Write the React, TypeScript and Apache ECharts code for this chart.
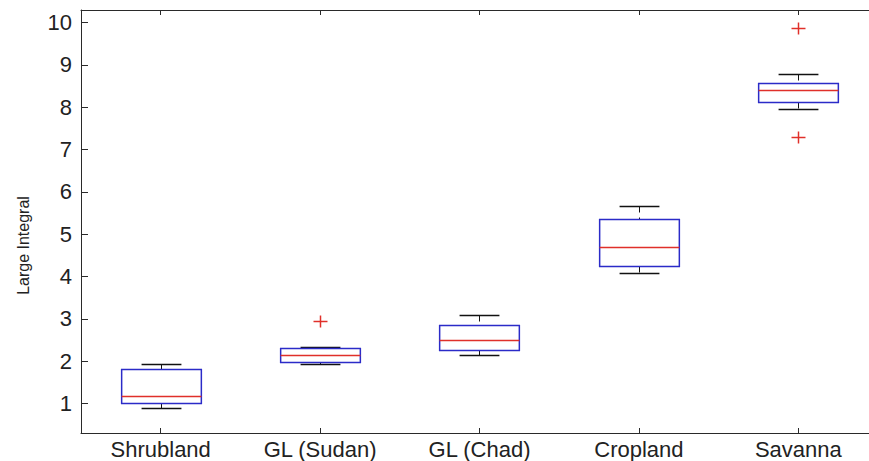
import React, { useEffect, useRef } from "react";
import * as echarts from "echarts";

// Land-cover classes along the x axis
const categories = ["Shrubland", "GL (Sudan)", "GL (Chad)", "Cropland", "Savanna"];

// Five-number summaries per class: lower whisker, Q1, median, Q3, upper whisker
const lowerWhisker = [0.9, 1.93, 2.14, 4.09, 7.95];
const quartile1 = [1.0, 1.99, 2.26, 4.25, 8.13];
const medians = [1.18, 2.14, 2.49, 4.7, 8.41];
const quartile3 = [1.82, 2.3, 2.86, 5.35, 8.57];
const upperWhisker = [1.93, 2.33, 3.08, 5.66, 8.78];

// Outlying observations: class index and value
const outlierClass = [1, 4, 4];
const outlierValue = [2.95, 9.87, 7.3];

// Y-axis tick values
const yTicks = [1, 2, 3, 4, 5, 6, 7, 8, 9, 10];

const FONT = "'Liberation Sans', Arial, Helvetica, sans-serif";
const BOX_BLUE = "#2b2bc8";
const MEDIAN_RED = "#e0302a";
const AXIS_DARK = "#2a2a2a";

const crisp = (v: number) => Math.round(v) + 0.5;

// One custom series per primitive; each item draws a single element
function partSeries(name: string, data: number[][], dims: number[], draw: (api: any) => any) {
  return {
    type: "custom",
    name,
    data,
    encode: { x: 0, y: dims },
    renderItem: (_params: any, api: any) => draw(api),
  };
}

export default function App() {
  const ref = useRef<HTMLDivElement>(null);

  useEffect(() => {
    if (!ref.current) return;
    const chart = echarts.init(ref.current, undefined, { renderer: "svg" });

    const boxData = categories.map((_, i) => [
      i,
      lowerWhisker[i],
      quartile1[i],
      medians[i],
      quartile3[i],
      upperWhisker[i],
    ]);
    const outlierData = outlierClass.map((c, i) => [c, outlierValue[i]]);

    const px = (api: any, dim: number) => {
      const idx = api.value(0);
      const p = api.coord([idx, api.value(dim)]);
      return { cx: crisp(p[0]), y: crisp(p[1]), band: api.size([1, 0])[0] };
    };

    const whiskerStyle = { stroke: "#111", lineWidth: 1, lineDash: [6, 5] };
    const capStyle = { stroke: "#111", lineWidth: 1.5 };
    const plusStyle = { stroke: MEDIAN_RED, lineWidth: 1.5 };

    chart.setOption({
      animation: false,
      backgroundColor: "#ffffff",
      grid: {
        left: 81,
        top: 10,
        width: 797,
        height: 423,
        outerBoundsMode: "none",
        show: false,
        borderWidth: 0,
      },
      xAxis: [
        {
          type: "category",
          data: categories,
          axisLine: { show: true, lineStyle: { color: AXIS_DARK, width: 1 } },
          axisTick: { show: true, inside: true, length: 5, alignWithLabel: true, lineStyle: { color: AXIS_DARK } },
          axisLabel: { color: "#222", fontFamily: FONT, fontSize: 22, margin: 5 },
          splitLine: { show: false },
        },
        {
          type: "category",
          data: categories,
          position: "top",
          axisLine: { show: true, lineStyle: { color: AXIS_DARK, width: 1 } },
          axisTick: { show: true, inside: true, length: 5, alignWithLabel: true, lineStyle: { color: AXIS_DARK } },
          axisLabel: { show: false },
          splitLine: { show: false },
        },
      ],
      yAxis: {
        type: "value",
        min: 0.3,
        max: 10.3,
        name: "Large Integral",
        nameLocation: "middle",
        nameGap: 50,
        nameTextStyle: {
          color: "#222",
          fontFamily: FONT,
          fontSize: 16,
          padding: [0, 48, 0, 0],
        },
        axisLine: { show: true, lineStyle: { color: AXIS_DARK, width: 1 } },
        axisTick: {
          show: true,
          inside: true,
          length: 7,
          customValues: yTicks,
          lineStyle: { color: AXIS_DARK },
        },
        axisLabel: {
          color: "#222",
          fontFamily: FONT,
          fontSize: 22,
          margin: 9,
          customValues: yTicks,
        },
        splitLine: { show: false },
      },
      series: [
        // upper whisker (dashed), cap to Q3
        partSeries("upperWhisker", boxData, [5, 4], (api) => {
          const hi = px(api, 5);
          const q3 = px(api, 4);
          return { type: "line", shape: { x1: hi.cx, y1: hi.y, x2: hi.cx, y2: q3.y }, style: whiskerStyle };
        }),
        // lower whisker (dashed), Q1 to cap
        partSeries("lowerWhisker", boxData, [2, 1], (api) => {
          const q1 = px(api, 2);
          const lo = px(api, 1);
          return { type: "line", shape: { x1: q1.cx, y1: q1.y, x2: q1.cx, y2: lo.y }, style: whiskerStyle };
        }),
        partSeries("upperCap", boxData, [5], (api) => {
          const hi = px(api, 5);
          const w = hi.band * 0.125;
          return { type: "line", shape: { x1: hi.cx - w, y1: hi.y, x2: hi.cx + w, y2: hi.y }, style: capStyle };
        }),
        partSeries("lowerCap", boxData, [1], (api) => {
          const lo = px(api, 1);
          const w = lo.band * 0.125;
          return { type: "line", shape: { x1: lo.cx - w, y1: lo.y, x2: lo.cx + w, y2: lo.y }, style: capStyle };
        }),
        partSeries("box", boxData, [2, 4], (api) => {
          const q1 = px(api, 2);
          const q3 = px(api, 4);
          const w = q1.band * 0.25;
          return {
            type: "rect",
            shape: { x: q1.cx - w, y: q3.y, width: 2 * w, height: q1.y - q3.y },
            style: { fill: "none", stroke: BOX_BLUE, lineWidth: 1.5 },
          };
        }),
        partSeries("median", boxData, [3], (api) => {
          const m = px(api, 3);
          const w = m.band * 0.25;
          return { type: "line", shape: { x1: m.cx - w, y1: m.y, x2: m.cx + w, y2: m.y }, style: { stroke: MEDIAN_RED, lineWidth: 1.3 } };
        }),
        // outliers drawn as "+" from two strokes
        partSeries("outlierH", outlierData, [1], (api) => {
          const o = px(api, 1);
          return { type: "line", shape: { x1: o.cx - 7, y1: o.y, x2: o.cx + 7, y2: o.y }, style: plusStyle };
        }),
        partSeries("outlierV", outlierData, [1], (api) => {
          const o = px(api, 1);
          return { type: "line", shape: { x1: o.cx, y1: o.y - 6, x2: o.cx, y2: o.y + 6 }, style: plusStyle };
        }),
      ],
    });

    return () => chart.dispose();
  }, []);

  return (
    <div
      ref={ref}
      style={{ position: "fixed", left: 0, top: 0, width: 869, height: 461, background: "#fff" }}
    />
  );
}
